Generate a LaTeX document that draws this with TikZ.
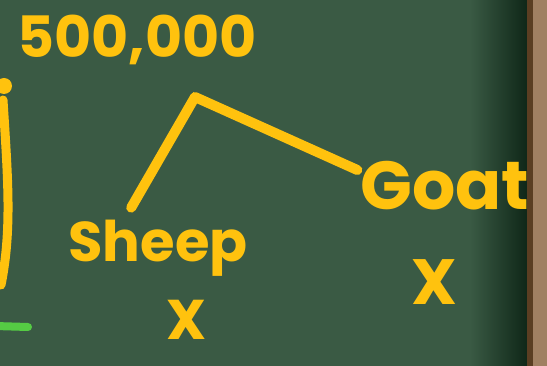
\documentclass[tikz,border=0pt]{standalone}
\usepackage{fontspec}
\setmainfont{Poppins}
\usetikzlibrary{positioning,calc}
\definecolor{chalkboard}{HTML}{3A5A44}
\definecolor{boarddark}{HTML}{0E2617}
\definecolor{chalkyellow}{HTML}{FFC20E}
\definecolor{chalkgreen}{HTML}{55CC44}
\definecolor{woodframe}{HTML}{A08062}
\definecolor{wooddark}{HTML}{5A3E22}

\begin{document}
\begin{tikzpicture}[
    x=1pt, y=-1pt,
    chalk/.style={text=chalkyellow, inner sep=0pt, font=\bfseries},
    stroke/.style={draw=chalkyellow, line width=10pt, line cap=round, line join=round},
  ]

  % board and frame
  \fill[chalkboard] (0,0) rectangle (470,366);
  \shade[left color=chalkboard, right color=boarddark] (470,0) rectangle (528,366);
  \fill[woodframe] (528,0) rectangle (547,366);
  \fill[wooddark] (527,0) rectangle (533,366);
  \useasboundingbox (0,0) rectangle (547,366);

  \node[chalk, font=\bfseries\fontsize{57}{57}\selectfont] (total) at (137,40) {500,000};
  \coordinate (root) at (195,97);
  \node[chalk, font=\bfseries\fontsize{56}{56}\selectfont] (sheep) at (158,248) {Sheep};
  \node[chalk, font=\bfseries\fontsize{68}{68}\selectfont] (goat) at (445,186) {Goat};
  \node[chalk, font=\bfseries\fontsize{56}{56}\selectfont] (sheepx) at (187,320) {X};
  \node[chalk, font=\bfseries\fontsize{64}{64}\selectfont] (goatx) at (434,282) {X};

  \draw[stroke] ($(sheep.north west)+(63,-12)$) -- (root) -- ($(goat.west)+(-3,-16)$);

  % marks at the left edge
  \coordinate (dot) at (4,86);
  \fill[chalkyellow] (dot) circle (8pt);
  \draw[stroke, line width=9pt] (3,100) .. controls (8,180) and (12,230) .. (1,285);
  \draw[draw=chalkgreen, line width=8pt, line cap=round] (-5,326) -- (28,327);

\end{tikzpicture}
\end{document}
